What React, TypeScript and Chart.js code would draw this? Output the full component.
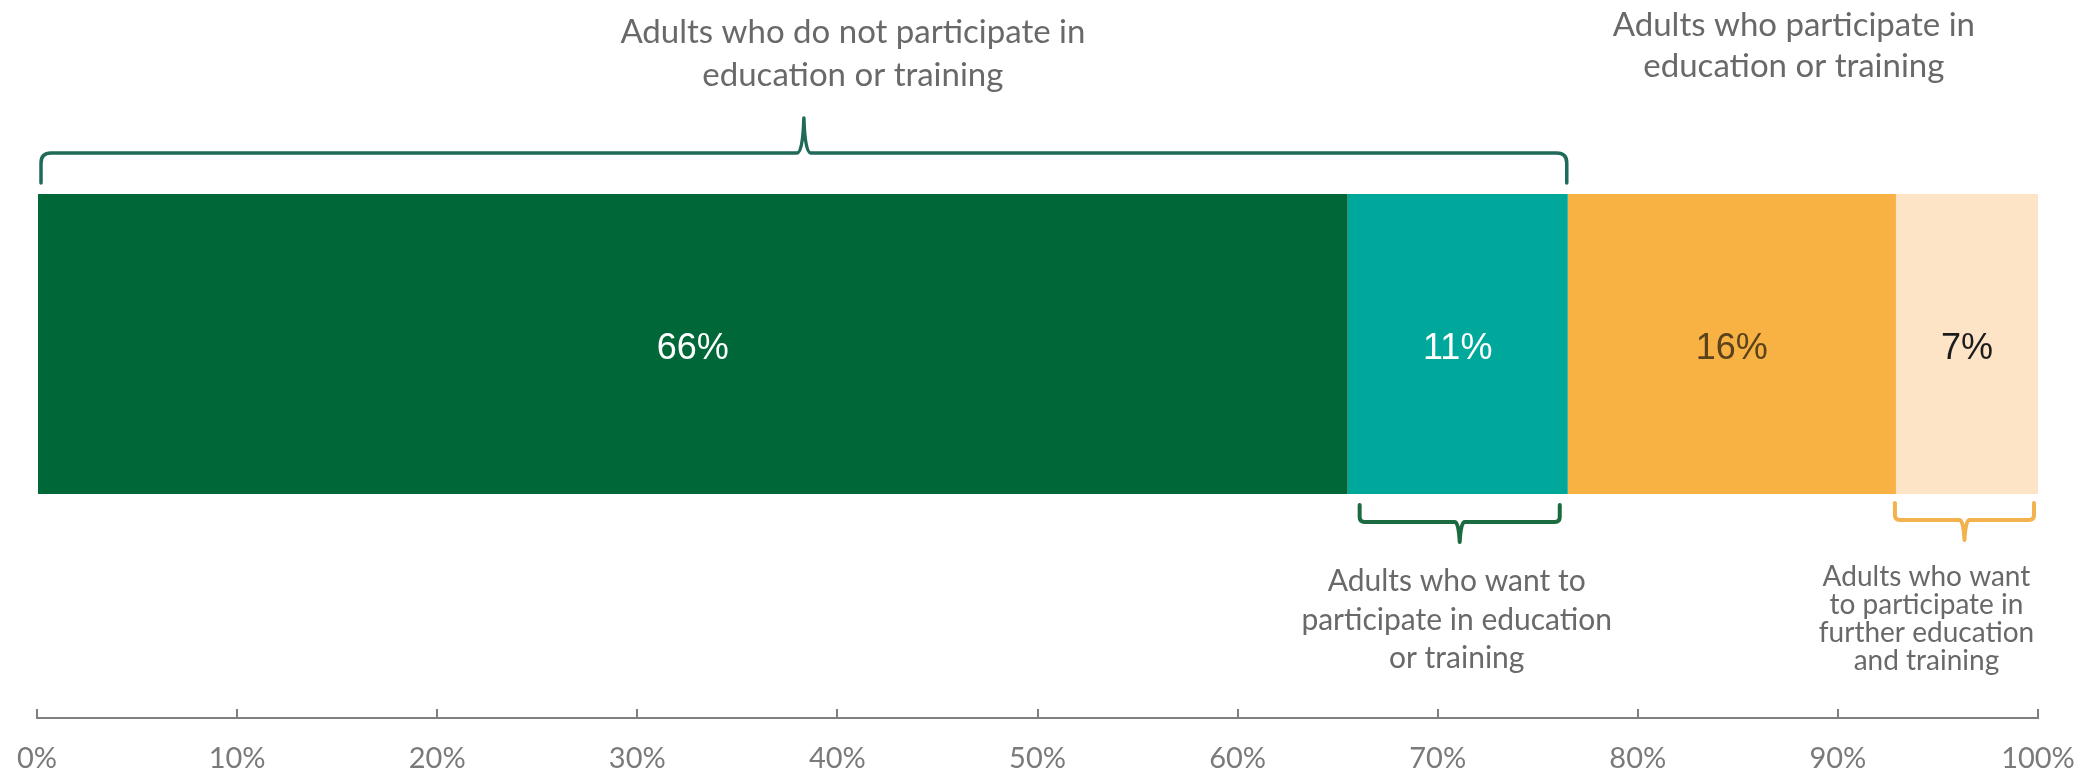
import React, { useEffect, useRef } from 'react';
import { Chart, registerables } from 'chart.js';

Chart.register(...registerables);

// ---- data ----
const categories = ['Adults'];
const seriesNames = [
  'Adults who do not participate and do not want to',
  'Adults who want to participate in education or training',
  'Adults who participate in education or training',
  'Adults who want to participate in further education and training',
];
const seriesValues = [65.5, 11.0, 16.4, 7.1];
const seriesColors = ['#006838', '#00a89c', '#f8b143', '#fde4c6'];
const valueLabelColors = ['#ffffff', '#ffffff', '#5a421d', '#1c1c1c'];
const tickValues = [0, 10, 20, 30, 40, 50, 60, 70, 80, 90, 100];

const topLeftText = ['Adults who do not participate in', 'education or training'];
const topRightText = ['Adults who participate in', 'education or training'];
const bottomMidText = ['Adults who want to', 'participate in education', 'or training'];
const bottomRightText = ['Adults who want', 'to participate in', 'further education', 'and training'];

const PAGE_W = 2099;
const PAGE_H = 774;
const CANVAS_H = 804;
const TOP_SHIFT = 30;

const TEXT_FONT = 'Lato, "Open Sans", sans-serif';
const TEXT_COLOR = '#696969';

function cumulative(upTo: number) {
  let s = 0;
  for (let i = 0; i < upTo; i++) s += seriesValues[i];
  return s;
}

function drawBrace(
  ctx: CanvasRenderingContext2D,
  x0: number,
  x1: number,
  yEnd: number,
  yLine: number,
  yTip: number,
  r: number,
  tipHalf: number,
  color: string,
  width: number
) {
  const xm = (x0 + x1) / 2;
  const s = Math.sign(yTip - yLine);
  ctx.save();
  ctx.strokeStyle = color;
  ctx.lineWidth = width;
  ctx.lineCap = 'round';
  ctx.lineJoin = 'round';
  ctx.beginPath();
  ctx.moveTo(x0, yEnd);
  ctx.lineTo(x0, yLine - s * r);
  ctx.quadraticCurveTo(x0, yLine, x0 + r, yLine);
  ctx.lineTo(xm - tipHalf, yLine);
  ctx.quadraticCurveTo(xm - 1, yLine, xm, yTip);
  ctx.quadraticCurveTo(xm + 1, yLine, xm + tipHalf, yLine);
  ctx.lineTo(x1 - r, yLine);
  ctx.quadraticCurveTo(x1, yLine, x1, yLine - s * r);
  ctx.lineTo(x1, yEnd);
  ctx.stroke();
  ctx.restore();
}

function drawLines(
  ctx: CanvasRenderingContext2D,
  lines: string[],
  cx: number,
  ys: number[],
  size: number
) {
  ctx.save();
  ctx.font = `${size}px ${TEXT_FONT}`;
  ctx.fillStyle = TEXT_COLOR;
  ctx.textAlign = 'center';
  ctx.textBaseline = 'middle';
  lines.forEach((l, i) => ctx.fillText(l, cx, ys[i]));
  ctx.restore();
}

const annotationPlugin = {
  id: 'annotations',
  afterDatasetsDraw(chart: any) {
    const ctx: CanvasRenderingContext2D = chart.ctx;
    const xs = chart.scales.x;
    const px = (v: number) => xs.getPixelForValue(v);
    const bar0 = chart.getDatasetMeta(0).data[0];
    const barTop = bar0.y - bar0.height / 2;
    const barBottom = bar0.y + bar0.height / 2;

    // value labels inside bars
    chart.data.datasets.forEach((ds: any, i: number) => {
      const el = chart.getDatasetMeta(i).data[0];
      const cx = (el.x + el.base) / 2;
      ctx.save();
      ctx.font = '36px "Liberation Sans", Arial, sans-serif';
      ctx.fillStyle = valueLabelColors[i];
      ctx.textAlign = 'center';
      ctx.textBaseline = 'middle';
      ctx.fillText(Math.round(ds.data[0]) + '%', cx, el.y + 5);
      ctx.restore();
    });

    // top brace over first two segments
    const tA0 = px(0) + 4;
    const tA1 = px(cumulative(2)) - 1;
    drawBrace(ctx, tA0, tA1, barTop - 11, barTop - 41, barTop - 76, 10, 7, '#1f6a59', 3.5);
    const tipTop = (tA0 + tA1) / 2;
    drawLines(ctx, topLeftText, tipTop + 49, [barTop - 162, barTop - 119], 33);

    // top-right text
    const rMid = (px(cumulative(2)) + px(100)) / 2;
    drawLines(ctx, topRightText, rMid - 9, [barTop - 169, barTop - 128], 33);

    // bottom brace under the teal segment
    const bA0 = px(cumulative(1)) + 12;
    const bA1 = px(cumulative(2)) - 8;
    drawBrace(ctx, bA0, bA1, barBottom + 11, barBottom + 28, barBottom + 48, 5, 5, '#1c6b40', 4);
    drawLines(ctx, bottomMidText, (bA0 + bA1) / 2 - 3, [barBottom + 87, barBottom + 126, barBottom + 164], 30);

    // bottom brace under the light segment
    const cA0 = px(cumulative(3)) - 1;
    const cA1 = px(100) - 4;
    drawBrace(ctx, cA0, cA1, barBottom + 9, barBottom + 26, barBottom + 46, 5, 5, '#f2b24e', 4);
    drawLines(
      ctx,
      bottomRightText,
      (cA0 + cA1) / 2 - 38,
      [barBottom + 83, barBottom + 111, barBottom + 139, barBottom + 167],
      28
    );
  },
};

export default function App() {
  const canvasRef = useRef<HTMLCanvasElement | null>(null);

  useEffect(() => {
    const canvas = canvasRef.current;
    if (!canvas) return;
    const chart = new Chart(canvas, {
      type: 'bar',
      data: {
        labels: categories,
        datasets: seriesValues.map((v, i) => ({
          label: seriesNames[i],
          data: [v],
          backgroundColor: seriesColors[i],
          borderWidth: 0,
          barPercentage: 300 / 748,
          categoryPercentage: 1,
        })),
      },
      options: {
        indexAxis: 'y',
        responsive: false,
        animation: false,
        devicePixelRatio: 1,
        layout: { padding: { left: 37, right: 61, top: 0, bottom: 0 } },
        plugins: {
          legend: { display: false },
          tooltip: { enabled: false },
          title: { display: false },
        },
        scales: {
          x: {
            type: 'linear',
            stacked: true,
            min: 0,
            max: 100,
            afterBuildTicks: (scale: any) => {
              scale.ticks = tickValues.map((v) => ({ value: v }));
            },
            afterFit: (scale: any) => {
              scale.height = 56;
            },
            ticks: {
              autoSkip: false,
              maxRotation: 0,
              padding: 0,
              color: '#7a7a7a',
              font: { family: 'Lato, "Open Sans", sans-serif', size: 29, lineHeight: 100 / 29 },
              callback: (v: any) => v + '%',
            },
            grid: {
              drawOnChartArea: false,
              drawTicks: true,
              tickLength: -9,
              color: '#808080',
              lineWidth: 2,
            },
            border: { display: true, color: '#808080', width: 2 },
          },
          y: {
            stacked: true,
            display: false,
          },
        },
      },
      plugins: [annotationPlugin],
    });
    return () => chart.destroy();
  }, []);

  return (
    <div
      style={{
        position: 'absolute',
        left: 0,
        top: 0,
        width: PAGE_W,
        height: PAGE_H,
        overflow: 'hidden',
        background: '#ffffff',
      }}
    >
      <canvas
        ref={canvasRef}
        width={PAGE_W}
        height={CANVAS_H}
        style={{ display: 'block', position: 'absolute', left: 0, top: -TOP_SHIFT }}
      />
    </div>
  );
}
